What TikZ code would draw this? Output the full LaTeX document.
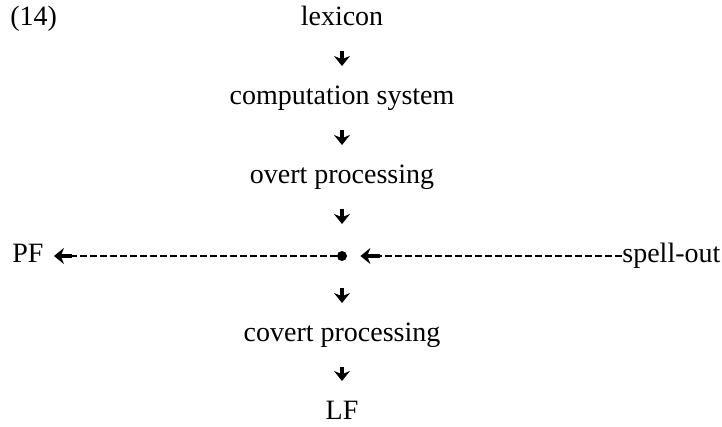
\documentclass[tikz,border=0pt]{standalone}
\usepackage{fontspec}
\setmainfont{Liberation Serif}
\usetikzlibrary{arrows.meta, positioning}
\tikzset{
  word/.style={
    inner sep=0pt,
    text height=9.8pt,
    text depth=3.5pt,
    font=\fontsize{14}{17}\selectfont
  },
  junction/.style={
    circle,
    fill=black,
    inner sep=0pt,
    minimum size=5pt
  },
  flow/.style={
    -{Stealth[length=5pt, width=8pt]},
    line width=2.2pt
  },
  down/.style={
    flow,
    shorten <=16pt,
    shorten >=16pt
  },
  dashline/.style={
    line width=0.9pt,
    dash pattern=on 3.5pt off 1.5pt
  }
}

\begin{document}
\begin{tikzpicture}[x=0.5pt, y=-0.5pt]
  \useasboundingbox (0,0) rectangle (722,427);

  \node[word, anchor=west] (num) at (10,19) {(14)};
  \node[word] (lexicon) at (342,19) {lexicon};
  \node[word] (comp) at (342,98) {computation system};
  \node[word] (overt) at (342,177) {overt processing};
  \node[junction] (dot) at (342,256) {};
  \node[word] (covert) at (342,335) {covert processing};
  \node[word] (lf) at (342,413) {LF};

  \node[word, anchor=west] (pf) at (12,256) {PF};
  \node[word, anchor=west] (spell) at (622,256) {spell-out};
  \coordinate (pfhead) at (72,256);
  \coordinate (spellhead) at (380,256);

  \path (lexicon.center) edge[down] (comp.center)
        (comp.center) edge[down] (overt.center)
        (overt.center) edge[down] (dot.center)
        (dot.center) edge[down] (covert.center)
        (covert.center) edge[down] (lf.center);

  % spell-out line into the point, and on to PF
  \draw[dashline] (spell) -- (spellhead);
  \draw[flow, shorten >=6.5pt] (spellhead) -- (dot);
  \draw[dashline] (dot) -- (pfhead);
  \draw[flow, shorten >=5pt] (pfhead) -- (pf);
\end{tikzpicture}
\end{document}
